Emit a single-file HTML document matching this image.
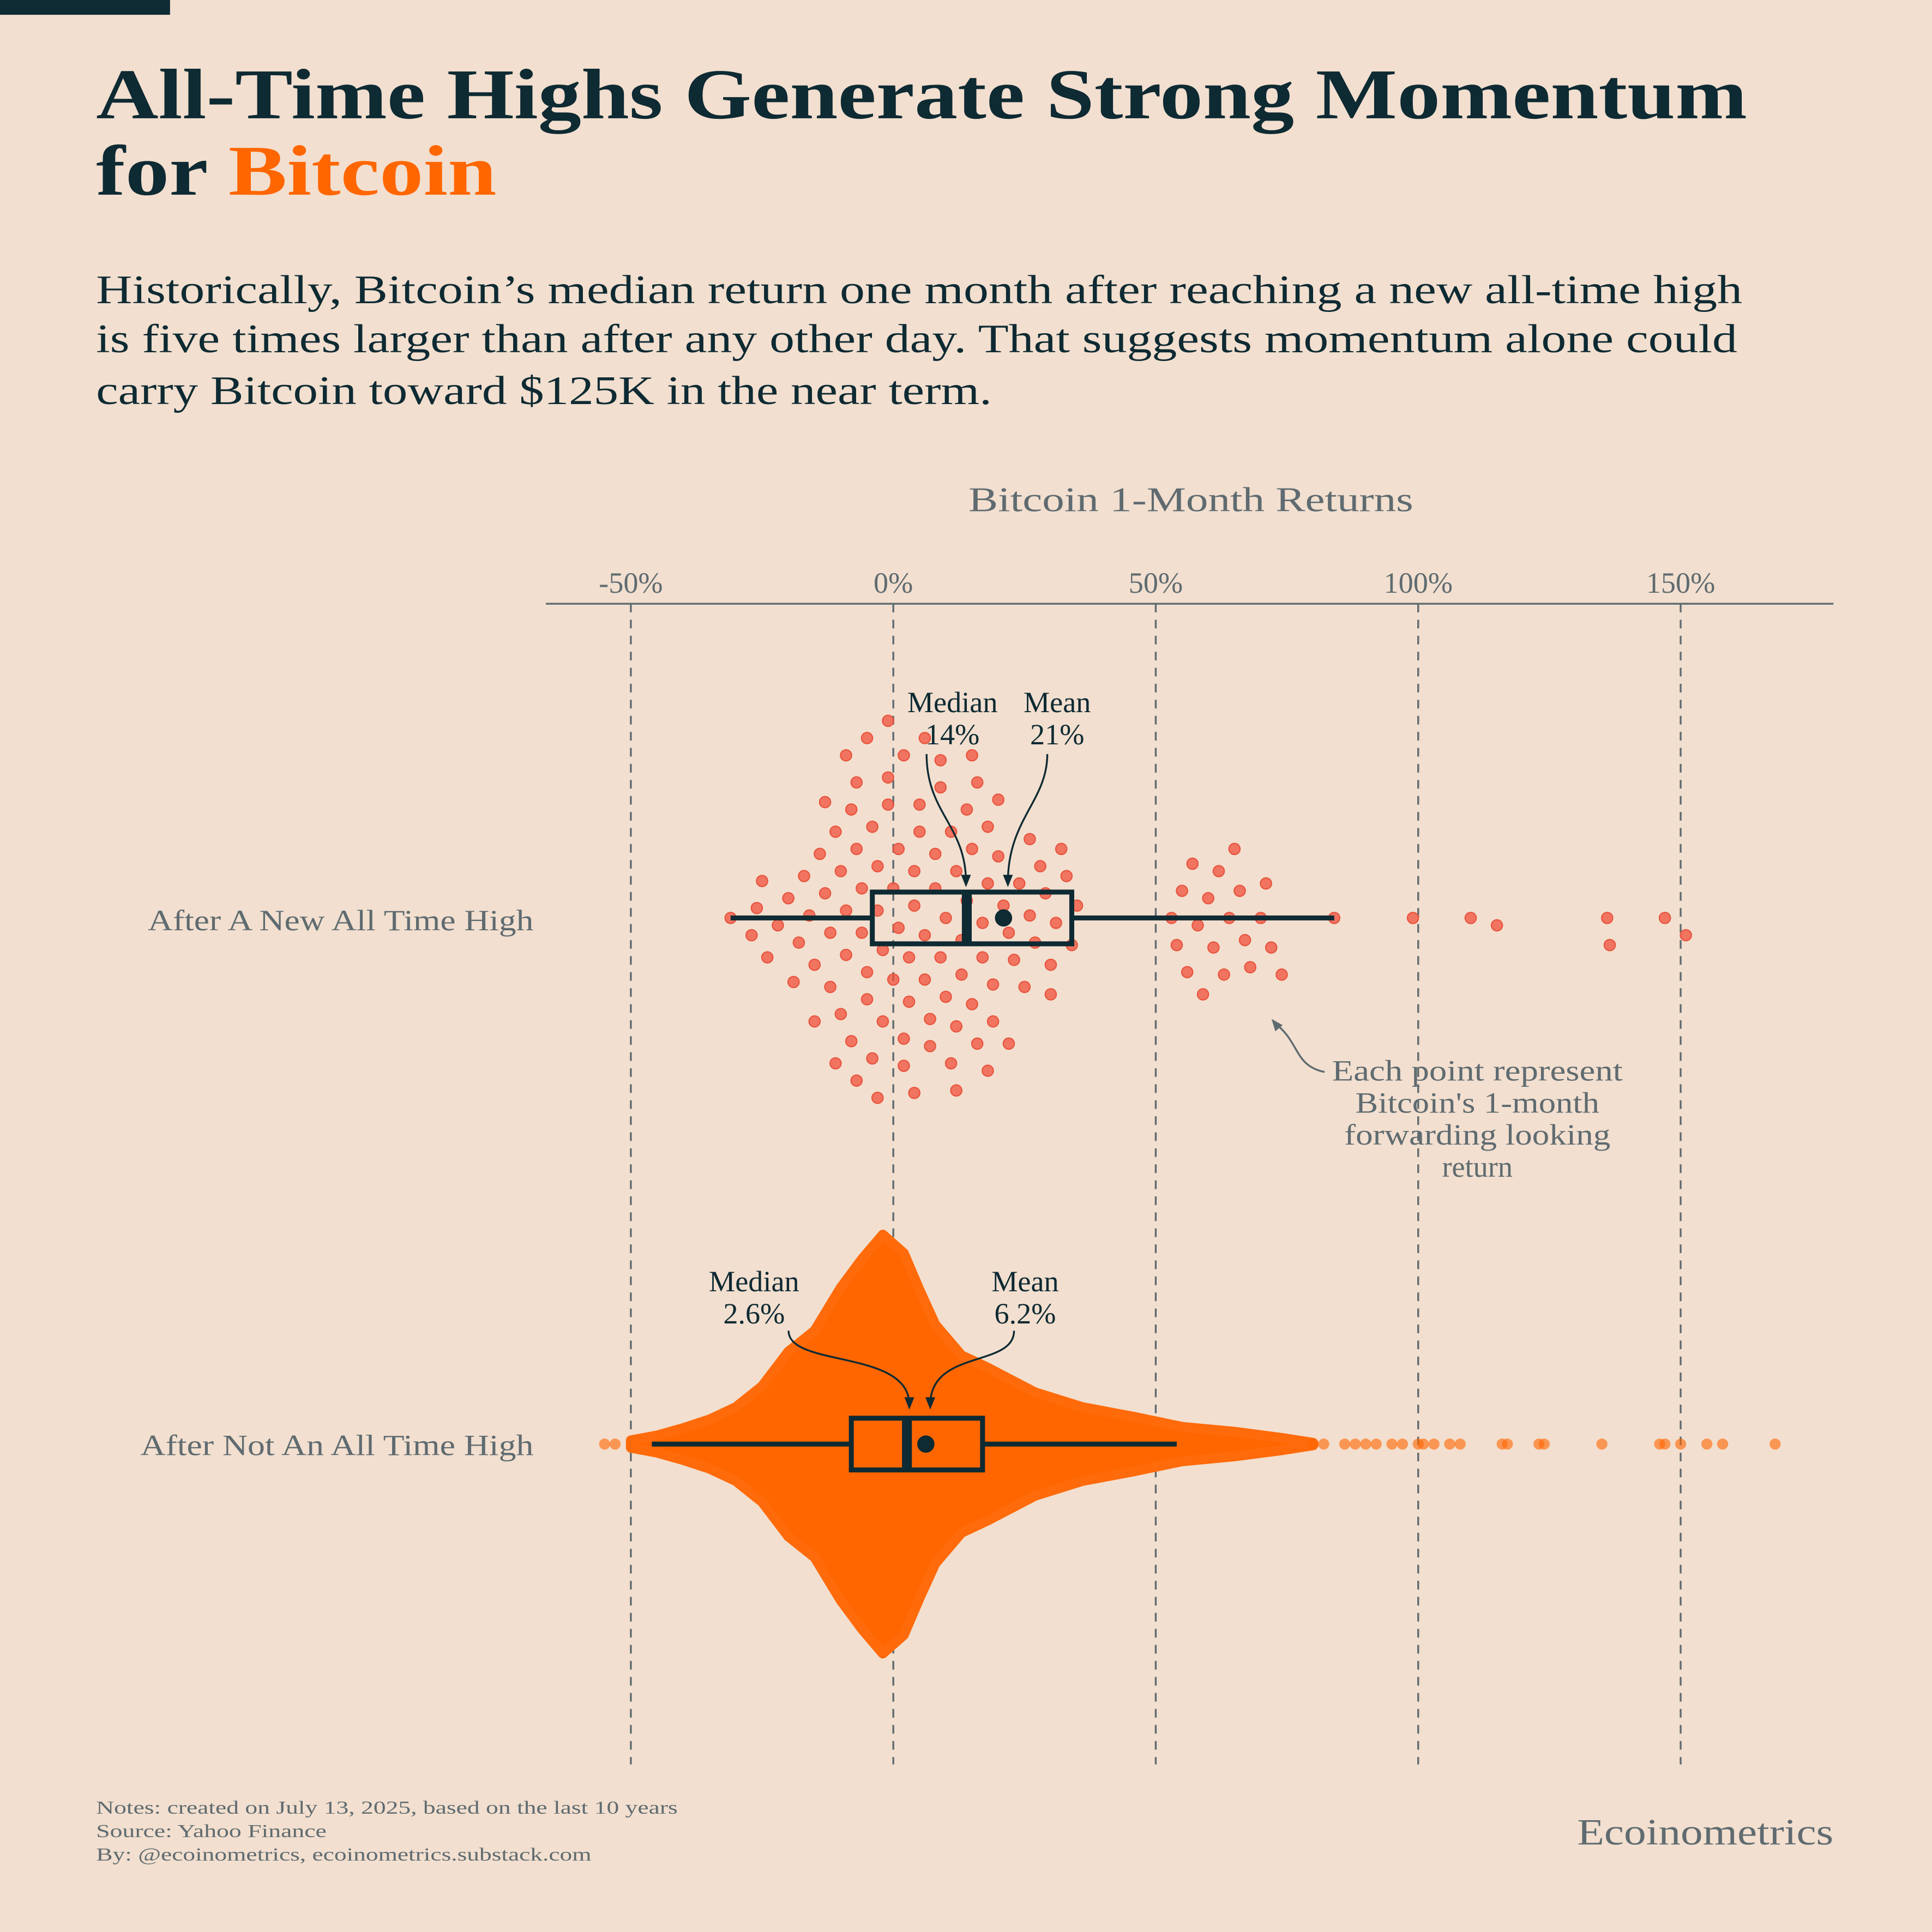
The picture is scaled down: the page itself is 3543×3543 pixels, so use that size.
<!DOCTYPE html>
<html><head><meta charset="utf-8">
<style>
html,body{margin:0;padding:0;background:#f2dfcf;}
svg{display:block;}
text{font-family:"Liberation Serif",serif;}
</style></head>
<body>
<svg id="chart" width="3543" height="3543" viewBox="0 0 1568 1568" xmlns="http://www.w3.org/2000/svg">
<rect x="0" y="0" width="1568" height="1568" fill="#f2dfcf"/>
<rect x="0" y="0" width="138" height="12" fill="#0e2a33"/>
<text x="78" y="96" font-size="58" font-weight="bold" fill="#0e2a33" textLength="1340" lengthAdjust="spacingAndGlyphs">All-Time Highs Generate Strong Momentum</text>
<text x="78" y="158" font-size="58" font-weight="bold" fill="#0e2a33" textLength="325" lengthAdjust="spacingAndGlyphs">for <tspan fill="#ff6600">Bitcoin</tspan></text>
<g font-size="33" fill="#0e2a33">
<text x="78" y="246" textLength="1336" lengthAdjust="spacingAndGlyphs">Historically, Bitcoin’s median return one month after reaching a new all-time high</text>
<text x="78" y="286" textLength="1332" lengthAdjust="spacingAndGlyphs">is five times larger than after any other day. That suggests momentum alone could</text>
<text x="78" y="328" textLength="727" lengthAdjust="spacingAndGlyphs">carry Bitcoin toward $125K in the near term.</text>
</g>
<text x="786" y="415" font-size="28" fill="#5f6b70" textLength="361" lengthAdjust="spacingAndGlyphs">Bitcoin 1-Month Returns</text>
<line x1="443" y1="490" x2="1488" y2="490" stroke="#5f6b70" stroke-width="1.5"/>
<g id="grid"></g>
<g id="ticks"></g>
<text x="120" y="755" font-size="24" fill="#5f6b70" textLength="313" lengthAdjust="spacingAndGlyphs">After A New All Time High</text>
<text x="114" y="1181" font-size="24" fill="#5f6b70" textLength="319" lengthAdjust="spacingAndGlyphs">After Not An All Time High</text>
<g id="bottom"></g>
<g id="top"></g>
<g id="boxes"></g>
<g fill="none" stroke="#0e2a33" stroke-width="1.5">
<path d="M752,612 C752,660 784,670 784,716"/>
<path d="M850,612 C850,650 818,665 818,716"/>
<path d="M640,1080 C640,1110 738,1095 738,1140"/>
<path d="M823,1080 C823,1110 755,1095 755,1140"/>
<path d="M1075,870 C1050,865 1055,845 1034,830" stroke="#5f6b70"/>
</g>
<g fill="#0e2a33">
<path d="M784,720 l-4,-10 l8,0z"/><path d="M818,720 l-4,-10 l8,0z"/>
<path d="M738,1144 l-4,-10 l8,0z"/><path d="M755,1144 l-4,-10 l8,0z"/>
<path d="M1032,827 l9,5 l-6,5z" fill="#5f6b70"/>
</g>
<g font-size="24" fill="#0e2a33" text-anchor="middle">
<text x="773" y="578">Median</text><text x="773" y="604">14%</text>
<text x="858" y="578">Mean</text><text x="858" y="604">21%</text>
<text x="612" y="1048">Median</text><text x="612" y="1074">2.6%</text>
<text x="832" y="1048">Mean</text><text x="832" y="1074">6.2%</text>
</g>
<g font-size="24" fill="#5f6b70" text-anchor="middle">
<text x="1199" y="877" textLength="236" lengthAdjust="spacingAndGlyphs">Each point represent</text>
<text x="1199" y="903" textLength="198" lengthAdjust="spacingAndGlyphs">Bitcoin's 1-month</text>
<text x="1199" y="929" textLength="216" lengthAdjust="spacingAndGlyphs">forwarding looking</text>
<text x="1199" y="955">return</text>
</g>
<g font-size="15" fill="#5f6b70">
<text x="78" y="1472" textLength="472" lengthAdjust="spacingAndGlyphs">Notes: created on July 13, 2025, based on the last 10 years</text>
<text x="78" y="1491" textLength="187" lengthAdjust="spacingAndGlyphs">Source: Yahoo Finance</text>
<text x="78" y="1510" textLength="402" lengthAdjust="spacingAndGlyphs">By: @ecoinometrics, ecoinometrics.substack.com</text>
</g>
<text x="1280" y="1497" font-size="30" fill="#5f6b70" textLength="208" lengthAdjust="spacingAndGlyphs">Ecoinometrics</text>
</svg>
<script>
const NS="http://www.w3.org/2000/svg";
const tickValues=[-50,0,50,100,150];
const tickLabels=["-50%","0%","50%","100%","150%"];
const athReturns=[-31,-27,-26,-25,-24,-22,-20,-18,-17,-16,-15,-14,-13,-12,-12,-11,-10,-10,-9,-9,-8,-8,-7,-7,-6,-6,-5,-5,-4,-4,-3,-3,-2,-2,-1,-1,0,0,1,1,2,2,3,3,4,4,5,5,6,6,7,7,8,8,9,9,10,10,11,11,12,12,13,13,14,14,15,15,16,16,17,17,18,18,19,19,20,20,21,22,23,24,25,26,27,28,29,30,31,32,33,34,35,-19,-15,-13,-11,-9,-7,-5,-3,-1,2,4,6,9,12,15,18,22,26,30,53,54,55,56,57,58,59,60,61,62,63,64,65,66,67,68,70,71,72,74,84,99,110,115,136,136.5,147,151];
const athBox={low:-31,q1:-4,median:14,q3:34,high:84,mean:21};
const otherBins=[-50,-45,-40,-35,-30,-25,-20,-15,-10,-6,-2,2,5,8,13,18,27,36,46,55,65,74,80];
const otherDensity=[3,7,13,20,30,47,75,92,127,150,170,155,125,97,72,62,42,30,22,14,10,5,1];
const otherOutliers=[-55,-53,80,82,86,88,90,92,95,97,100,101,103,106,108,116,117,123,124,135,146,147,150,155,158,168];
const otherBox={low:-46,q1:-8,median:2.6,q3:17,high:54,mean:6.2};

const x=v=>725+v*4.26;
const gGrid=document.getElementById('grid'),gTicks=document.getElementById('ticks');
tickValues.forEach((v,i)=>{
  const l=document.createElementNS(NS,'line');
  l.setAttribute('x1',x(v));l.setAttribute('x2',x(v));l.setAttribute('y1',490);l.setAttribute('y2',1432);
  l.setAttribute('stroke','#5f6b70');l.setAttribute('stroke-width','1.5');l.setAttribute('stroke-dasharray','7,6');
  
  
  gGrid.appendChild(l);
  const t=document.createElementNS(NS,'text');
  t.setAttribute('x',x(v));t.setAttribute('y',481);t.setAttribute('font-size','24');t.setAttribute('fill','#5f6b70');t.setAttribute('text-anchor','middle');
  t.textContent=tickLabels[i];
  
  
  gTicks.appendChild(t);
});
const gTop=document.getElementById('top');
const placed=[];const D=22;const cy=745;
athReturns.forEach(v=>{
  const px=x(v);let py=0;
  for(let k=0;k<400;k++){
    const off=(k%2?1:-1)*Math.ceil(k/2)*2;
    if(placed.every(p=>Math.hypot(p[0]-px,p[1]-off)>=D)){py=off;break;}
  }
  placed.push([px,py]);
  const c=document.createElementNS(NS,'circle');
  c.setAttribute('cx',px);c.setAttribute('cy',cy+py);c.setAttribute('r',4.5);
  c.setAttribute('fill','#f0503c');c.setAttribute('fill-opacity','0.75');c.setAttribute('stroke','#e8553f');c.setAttribute('stroke-width','1');
  
  
  gTop.appendChild(c);
});
const gBot=document.getElementById('bottom');const by=1172;
let up=[],dn=[];
otherBins.forEach((b,i)=>{const h=otherDensity[i];up.push(x(b)+','+(by-h));dn.unshift(x(b)+','+(by+h));});
const vp=document.createElementNS(NS,'path');
vp.setAttribute('d','M'+x(otherBins[0])+','+by+' L'+up.join(' L')+' L'+x(otherBins[otherBins.length-1])+','+by+' L'+dn.join(' L')+'Z');
vp.setAttribute('fill','#ff6600');vp.setAttribute('stroke','#ff6a0a');vp.setAttribute('stroke-width','8');vp.setAttribute('stroke-linejoin','round');


gBot.appendChild(vp);
otherOutliers.forEach(v=>{
  const c=document.createElementNS(NS,'circle');
  c.setAttribute('cx',x(v));c.setAttribute('cy',by);c.setAttribute('r',4.5);
  c.setAttribute('fill','#ff6600');c.setAttribute('fill-opacity','0.6');
  
  
  gBot.appendChild(c);
});
const gBox=document.getElementById('boxes');
function drawBox(b,yc,name){
  const g=document.createElementNS(NS,'g');
  
  
  const s='#0e2a33';
  const w1=document.createElementNS(NS,'line');
  w1.setAttribute('x1',x(b.low));w1.setAttribute('x2',x(b.q1));w1.setAttribute('y1',yc);w1.setAttribute('y2',yc);w1.setAttribute('stroke',s);w1.setAttribute('stroke-width','4');
  const w2=document.createElementNS(NS,'line');
  w2.setAttribute('x1',x(b.q3));w2.setAttribute('x2',x(b.high));w2.setAttribute('y1',yc);w2.setAttribute('y2',yc);w2.setAttribute('stroke',s);w2.setAttribute('stroke-width','4');
  const r=document.createElementNS(NS,'rect');
  r.setAttribute('x',x(b.q1));r.setAttribute('y',yc-21);r.setAttribute('width',x(b.q3)-x(b.q1));r.setAttribute('height',42);
  r.setAttribute('fill','none');r.setAttribute('stroke',s);r.setAttribute('stroke-width','4');
  const m=document.createElementNS(NS,'line');
  m.setAttribute('x1',x(b.median));m.setAttribute('x2',x(b.median));m.setAttribute('y1',yc-21);m.setAttribute('y2',yc+21);m.setAttribute('stroke',s);m.setAttribute('stroke-width','8');
  const d=document.createElementNS(NS,'circle');
  d.setAttribute('cx',x(b.mean));d.setAttribute('cy',yc);d.setAttribute('r',7);d.setAttribute('fill',s);
  [w1,w2,r,m,d].forEach(e=>g.appendChild(e));
  gBox.appendChild(g);
}
drawBox(athBox,745,'ath-boxplot');
drawBox(otherBox,1172,'not-ath-boxplot');
</script>
</body></html>
